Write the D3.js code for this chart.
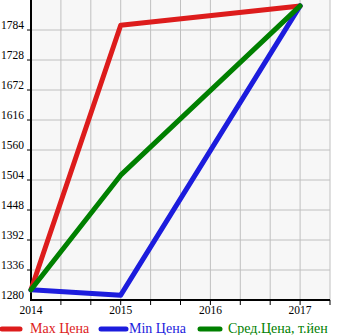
<!DOCTYPE html>
<html><head><meta charset="utf-8">
<script src="https://cdn.jsdelivr.net/npm/d3@7/dist/d3.min.js"></script>
<style>body{margin:0;background:#fff}svg{display:block}text{font-family:"Liberation Serif","Times New Roman",serif}</style>
</head><body><svg id="c" width="345" height="335"></svg>
<script>
const years = [2014, 2015, 2017];
const maxPrice = [1299, 1793, 1829];
const minPrice = [1299, 1289, 1829];
const avgPrice = [1299, 1513, 1829];
const xTickLabels = [2014, 2015, 2016, 2017];
const yTicks = [1280, 1336, 1392, 1448, 1504, 1560, 1616, 1672, 1728, 1784];
const seriesNames = ["Max Цена", "Min Цена", "Сред.Цена, т.йен"];
const colors = ["#dd1c1c", "#1c1cdd", "#008000"];

const seriesValues = [maxPrice, minPrice, avgPrice];
const series = seriesNames.map((n, i) => ({
  name: n, color: colors[i], pts: years.map((yr, j) => [yr, seriesValues[i][j]])
}));

const svg = d3.select("#c");
const L = 31, R = 330, T = 0, B = 300;
const x = d3.scaleLinear().domain([2014, 2017 + 1/3]).range([L, R]);
const y = d3.scaleLinear().domain([1280, 1840]).range([B, T]);

svg.append("rect").attr("x", L).attr("y", T).attr("width", R - L).attr("height", B - T).attr("fill", "#f7f7f7");

const xGrid = d3.range(0, 11).map(i => 2014 + i/3);
svg.append("g").selectAll("line").data(xGrid.slice(1)).join("line")
  .attr("x1", d => x(d)).attr("x2", d => x(d)).attr("y1", T).attr("y2", B)
  .attr("stroke", "#c0c0c0").attr("stroke-width", 1);
svg.append("g").selectAll("line").data(yTicks.slice(1)).join("line")
  .attr("x1", L).attr("x2", R).attr("y1", d => y(d)).attr("y2", d => y(d))
  .attr("stroke", "#c0c0c0").attr("stroke-width", 1);

svg.append("g").selectAll("line").data(xGrid.slice(1)).join("line")
  .attr("x1", d => x(d)).attr("x2", d => x(d)).attr("y1", B).attr("y2", B + 5)
  .attr("stroke", "#000").attr("stroke-width", 1);
svg.append("g").selectAll("line").data(yTicks.slice(1)).join("line")
  .attr("x1", L - 4).attr("x2", L).attr("y1", d => y(d)).attr("y2", d => y(d))
  .attr("stroke", "#000").attr("stroke-width", 1);

svg.append("line").attr("x1", L).attr("x2", L).attr("y1", T).attr("y2", B + 1).attr("stroke", "#000").attr("stroke-width", 2);
svg.append("line").attr("x1", L - 1).attr("x2", R).attr("y1", B).attr("y2", B).attr("stroke", "#000").attr("stroke-width", 2);

svg.append("g").selectAll("text").data(yTicks).join("text")
  .attr("x", 1).attr("y", d => y(d) - 1).attr("fill", "#000").style("font-size", "11.5px").text(d => d);
svg.append("g").selectAll("text").data(xTickLabels).join("text")
  .attr("x", d => x(d)).attr("y", 314).attr("text-anchor", "middle").attr("fill", "#000").style("font-size", "11.5px").text(d => d);

const line = d3.line().x(d => x(d[0])).y(d => y(d[1]));
series.forEach(s => {
  svg.append("path").attr("d", line(s.pts)).attr("fill", "none")
    .attr("stroke", s.color).attr("stroke-width", 5).attr("stroke-linejoin", "round").attr("stroke-linecap", "round");
});

const legX = [0, 99, 198], legLen = [22, 29, 24];
series.forEach((s, i) => {
  svg.append("line").attr("x1", legX[i] + 2).attr("x2", legX[i] + legLen[i] - 2).attr("y1", 329).attr("y2", 329)
    .attr("stroke", s.color).attr("stroke-width", 5).attr("stroke-linecap", "round");
  svg.append("text").attr("x", legX[i] + 30).attr("y", 333).attr("fill", s.color).style("font-size", "14px").text(s.name);
});
</script></body></html>
